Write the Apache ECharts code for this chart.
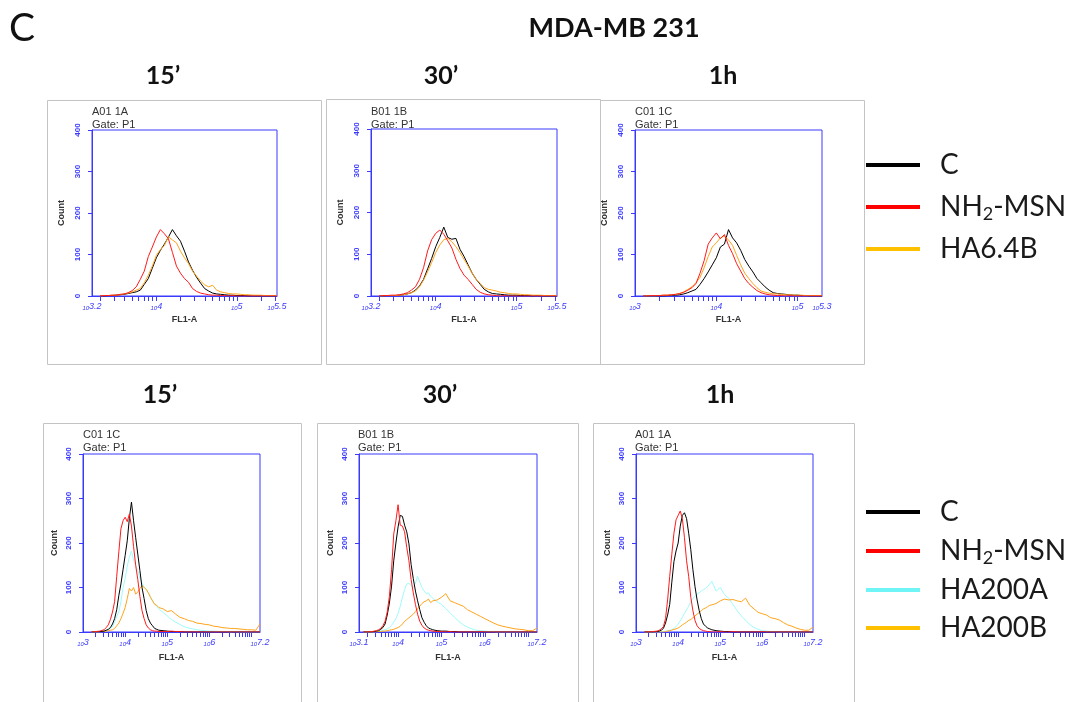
<!DOCTYPE html>
<html>
<head>
<meta charset="utf-8">
<script src="https://cdn.jsdelivr.net/npm/echarts@6/dist/echarts.min.js"></script>
<style>
html,body{margin:0;padding:0;background:#fff;}
#chart{width:1086px;height:702px;}
</style>
</head>
<body>
<div id="chart"></div>
<script>
// ---------- x positions (log10 of FL1-A) ----------
const TOP_X_A = [3.30,3.35,3.40,3.45,3.50,3.55,3.60,3.65,3.70,3.75,3.80,3.85,3.90,3.95,4.00,4.05,4.10,4.15,4.20,4.25,4.30,4.35,4.40,4.45,4.50,4.55,4.60,4.65,4.70,4.75,4.80,4.85,4.90,4.95,5.00,5.05,5.10,5.15,5.20,5.25,5.30,5.35,5.40,5.45,5.50];
const TOP_X_B = [3.10,3.15,3.20,3.25,3.30,3.35,3.40,3.45,3.50,3.55,3.60,3.65,3.70,3.75,3.80,3.85,3.90,3.95,4.00,4.05,4.10,4.15,4.20,4.25,4.30,4.35,4.40,4.45,4.50,4.55,4.60,4.65,4.70,4.75,4.80,4.85,4.90,4.95,5.00,5.05,5.10,5.15,5.20,5.25,5.30];
const BOT_X = [3.2,3.3,3.4,3.5,3.55,3.6,3.65,3.7,3.75,3.8,3.85,3.9,3.95,4.0,4.05,4.1,4.15,4.2,4.25,4.3,4.35,4.4,4.45,4.5,4.55,4.6,4.65,4.7,4.75,4.8,4.9,5.0,5.1,5.2,5.3,5.4,5.5,5.6,5.7,5.8,5.9,6.0,6.1,6.2,6.3,6.4,6.5,6.6,6.7,6.8,6.9,7.0,7.1,7.2];

// ---------- top row: C, NH2-MSN, HA6.4B ----------
const T15_C     = [0,0,1,1,2,3,4,6,8,10, 14,28,42,67,92,110,125,142,160,145, 132,108,82,62,45,31,18,12,7,5, 4,3,2,2,1,1,1,0,0,0,0,0,0,0,0];
const T15_NH2   = [0,1,1,2,2,4,5,8,13,22, 40,60,95,118,142,160,150,138,105,72, 55,42,33,18,11,7,5,3,2,2, 1,1,0,1,0,0,0,0,0,0,0,0,0,0,0];
const T15_HA64B = [0,1,1,2,2,3,5,7,10,14, 18,32,50,72,98,112,122,143,135,128, 108,92,78,60,48,36,27,22,26,14, 10,8,6,5,5,4,3,3,2,2,2,1,1,1,1];

const T30_C     = [0,0,1,1,1,2,3,5,8,14, 24,40,65,90,118,140,165,140,136,138, 112,95,75,55,40,28,16,10,6,5, 4,3,2,2,2,1,1,1,0,1,0,0,0,0,0];
const T30_NH2   = [0,1,1,2,2,3,5,8,14,22, 40,68,108,135,150,158,148,132,115,88, 66,50,40,28,16,9,5,3,2,1, 0,1,0,0,0,0,0,0,0,0,0,0,0,0,0];
const T30_HA64B = [0,0,1,1,1,2,3,5,8,12, 22,38,58,80,104,122,135,138,130,118, 104,88,72,55,40,30,20,16,14,12, 9,8,6,5,5,4,3,3,2,2,2,1,1,1,1];

const T1H_C     = [0,0,0,0,0,0,1,2,2,3, 5,8,12,16,28,42,58,75,92,118, 125,160,140,128,110,88,72,58,42,32, 22,14,8,6,5,4,3,2,2,1, 1,0,0,0,0];
const T1H_NH2   = [0,0,1,1,1,2,2,3,4,6, 9,14,20,30,55,85,125,140,152,138, 148,122,102,78,60,42,30,21,13,8, 5,3,2,1,1,0,1,0,0,0, 0,0,0,0,0];
const T1H_HA64B = [0,0,0,0,1,2,2,3,4,6, 10,16,22,32,45,68,95,118,128,140, 145,135,122,98,75,55,42,30,20,12, 9,7,5,5,4,3,3,2,2,2, 1,1,1,1,1];

// ---------- bottom row: C, NH2-MSN, HA200A, HA200B ----------
const B15_C      = [0,0,1,2,4,6,10,18,30,50, 82,108,140,172,205,255,292,250,212,175, 138,100,75,48,30,20,14,8,6,4, 3,2,1,1,1,0,0,0,0,0, 0,0,0,0,0,0,0,0,0,0, 0,0,0,0];
const B15_NH2    = [0,1,2,5,10,16,28,45,68,125, 180,232,250,258,248,265,238,192,150,118, 80,48,30,16,9,5,3,2,2,1, 1,1,2,1,1,0,0,0,0,0, 0,0,0,0,0,0,0,0,0,0, 0,0,0,0];
const B15_HA200A = [0,0,1,2,3,5,8,12,22,35, 45,68,100,120,148,168,182,162,150,138, 120,110,102,96,88,80,70,64,58,52, 44,36,28,22,17,12,9,7,5,4, 3,2,2,1,1,1,0,1,0,0, 0,0,0,0];
const B15_HA200B = [0,0,0,1,2,3,4,5,8,14, 20,30,42,55,75,98,92,100,85,90, 98,104,100,96,88,78,70,62,60,55, 52,46,48,40,33,30,26,24,20,19, 17,16,13,12,10,9,8,8,7,6, 5,5,4,18];

const B30_C      = [0,0,0,2,3,6,10,18,38,65, 103,160,200,236,262,260,240,225,198,152, 120,92,70,50,32,22,14,9,7,5, 3,2,2,1,1,0,0,0,0,0, 0,0,0,0,0,0,0,0,0,0, 0,0,0,0];
const B30_NH2    = [0,0,1,3,5,8,14,24,45,80, 140,220,250,286,240,238,225,190,160,118, 88,62,40,24,15,9,6,4,3,2, 1,1,0,1,0,0,0,0,0,0, 1,0,0,0,0,0,0,0,0,0, 0,0,0,0];
const B30_HA200A = [0,0,0,1,2,3,4,5,7,10, 15,22,30,42,58,78,95,108,110,104, 100,110,125,112,100,92,86,88,80,76, 68,62,52,43,33,24,16,11,7,4, 3,2,1,1,0,0,0,0,0,0, 0,0,0,0];
const B30_HA200B = [0,0,0,0,1,1,2,2,3,4, 5,6,8,10,13,18,24,28,32,36, 40,46,52,58,64,68,70,74,66,70, 72,78,86,70,66,62,58,50,45,40, 35,30,25,20,16,13,11,9,7,6, 5,3,3,9];

const B1H_C      = [0,0,0,1,2,4,8,20,38,62, 112,158,182,200,238,262,268,255,222,185, 140,102,72,48,30,18,13,9,7,5, 3,2,1,1,0,0,0,0,0,0, 0,0,0,0,0,0,0,0,0,0, 0,0,0,0];
const B1H_NH2    = [0,0,1,2,4,7,12,30,72,125, 175,222,252,262,272,255,212,160,125,78, 48,26,14,8,5,3,2,1,1,0, 0,1,0,0,1,0,0,0,0,0, 0,1,0,0,0,0,0,0,0,0, 0,0,0,0];
const B1H_HA200A = [0,0,0,0,0,1,1,2,3,4, 5,8,12,18,25,33,42,50,58,68, 76,80,85,88,92,95,98,102,108,114, 92,100,84,76,62,48,36,26,17,10, 6,3,2,1,1,0,0,0,0,0, 0,0,0,0];
const B1H_HA200B = [0,0,0,0,0,0,0,1,2,3, 4,6,7,9,12,16,19,22,26,28, 32,36,40,44,48,52,54,57,60,61, 64,70,74,72,73,70,68,76,60,52, 44,41,38,32,30,27,21,16,13,9, 6,4,4,11];

// ---------- axis labels ----------
const Y_TICKS = [0,100,200,300,400];
const XLAB_T15 = [3.2,4,5,5.5];
const XLAB_T30 = [3.2,4,5,5.5];
const XLAB_T1H = [3,4,5,5.3];
const XLAB_B15 = [3,4,5,6,7.2];
const XLAB_B30 = [3.1,4,5,6,7.2];
const XLAB_B1H = [3,4,5,6,7.2];
const TICK_MULTS = [1,2,3,4,5,6,7,8,9];

const TITLES_TOP = ["15\u2019","30\u2019","1h"];
const TITLES_BOT = ["15\u2019","30\u2019","1h"];
const TUBE_LABELS = ["A01 1A","B01 1B","C01 1C","C01 1C","B01 1B","A01 1A"];
const LEGEND_TOP = ["C","NH2-MSN","HA6.4B"];
const LEGEND_BOT = ["C","NH2-MSN","HA200A","HA200B"];

// ---------- styles ----------
const BLUE = '#3a3aff';
const COL = {'C':'#000000','NH2-MSN':'#ff1a1a','HA6.4B':'#ffa31a','HA200A':'#9ffbfb','HA200B':'#ffa31a'};
const LEG_COL = {'C':'#000000','NH2-MSN':'#ff0000','HA6.4B':'#ffc000','HA200A':'#6ff5f5','HA200B':'#ffc000'};

const panels = [
  {grid:{left:92,top:130,width:185,height:166}, min:3.2, max:5.5, labels:XLAB_T15, xs:TOP_X_A,
   series:[['C',T15_C],['HA6.4B',T15_HA64B],['NH2-MSN',T15_NH2]], countGap:26, flGap:19},
  {grid:{left:371,top:129,width:186,height:167}, min:3.2, max:5.5, labels:XLAB_T30, xs:TOP_X_A,
   series:[['C',T30_C],['HA6.4B',T30_HA64B],['NH2-MSN',T30_NH2]], countGap:26, flGap:19},
  {grid:{left:635,top:130,width:187,height:166}, min:3.0, max:5.3, labels:XLAB_T1H, xs:TOP_X_B,
   series:[['C',T1H_C],['HA6.4B',T1H_HA64B],['NH2-MSN',T1H_NH2]], countGap:26, flGap:19},
  {grid:{left:83,top:454,width:177,height:178}, min:3.0, max:7.2, labels:XLAB_B15, xs:BOT_X,
   series:[['HA200A',B15_HA200A],['HA200B',B15_HA200B],['C',B15_C],['NH2-MSN',B15_NH2]], countGap:24, flGap:21},
  {grid:{left:359,top:454,width:178,height:178}, min:3.1, max:7.2, labels:XLAB_B30, xs:BOT_X,
   series:[['HA200A',B30_HA200A],['HA200B',B30_HA200B],['C',B30_C],['NH2-MSN',B30_NH2]], countGap:24, flGap:21},
  {grid:{left:636,top:454,width:177,height:178}, min:3.0, max:7.2, labels:XLAB_B1H, xs:BOT_X,
   series:[['HA200A',B1H_HA200A],['HA200B',B1H_HA200B],['C',B1H_C],['NH2-MSN',B1H_NH2]], countGap:24, flGap:21}
];

function logTicks(min, max){
  const out = [];
  for (let d = Math.floor(min); d <= Math.ceil(max); d++){
    TICK_MULTS.forEach(m => {
      const v = d + Math.log10(m);
      if (v > min + 0.02 && v < max - 0.005) out.push(v);
    });
  }
  return out;
}
function fmtExp(v){ return String(Math.round(v*10)/10); }

const grids = [], xAxes = [], yAxes = [], series = [];
panels.forEach((p, i) => {
  grids.push(Object.assign({show:true, borderColor:BLUE, borderWidth:1, backgroundColor:'transparent', containLabel:false, outerBoundsMode:'none'}, p.grid));
  xAxes.push({
    type:'value', gridIndex:i, min:p.min, max:p.max,
    name:'FL1-A', nameLocation:'middle', nameGap:p.flGap,
    nameTextStyle:{fontSize:9, color:'#333', fontFamily:'Liberation Sans', fontWeight:'bold'},
    axisLine:{show:true, onZero:false, lineStyle:{color:BLUE, width:1}},
    axisTick:{show:true, customValues:logTicks(p.min,p.max), length:5, inside:false, lineStyle:{color:BLUE, width:1}},
    splitLine:{show:false}, minorTick:{show:false},
    axisLabel:{show:true, customValues:p.labels, margin:5, showMinLabel:true, showMaxLabel:true,
      formatter: v => '{a|10}{b|' + fmtExp(v) + '}',
      rich:{a:{fontSize:6, color:BLUE, fontFamily:'Liberation Sans', padding:[4,0,0,0], fontStyle:'italic'},
            b:{fontSize:9, color:BLUE, fontFamily:'Liberation Sans', fontStyle:'italic'}}}
  });
  yAxes.push({
    type:'value', gridIndex:i, min:0, max:400, interval:100,
    name:'Count', nameLocation:'middle', nameGap:p.countGap, nameRotate:90,
    nameTextStyle:{fontSize:9, color:'#333', fontFamily:'Liberation Sans', fontWeight:'bold'},
    axisLine:{show:true, lineStyle:{color:BLUE, width:1}},
    axisTick:{show:true, length:4, inside:false, lineStyle:{color:BLUE}},
    splitLine:{show:false},
    axisLabel:{show:true, rotate:90, fontSize:8, color:BLUE, margin:10, fontFamily:'Liberation Sans', fontWeight:'bold',
      customValues:Y_TICKS}
  });
  p.series.forEach(([name, ys], k) => {
    series.push({
      type:'line', name:name, xAxisIndex:i, yAxisIndex:i,
      data: p.xs.map((x, j) => [x, ys[j]]),
      showSymbol:false, symbol:'none', silent:true, animation:false,
      lineStyle:{width:1, color:COL[name]}, itemStyle:{color:COL[name]},
      emphasis:{disabled:true}, z:2+k
    });
  });
});

function legendItems(names){
  return names.map(n => ({name:n, icon:'rect', itemStyle:{color:LEG_COL[n], borderWidth:0}, lineStyle:{width:0}}));
}
const legendText = {
  fontSize:28, lineHeight:30, color:'#1a1a1a', fontFamily:'Lato',
  rich:{
    g:{width:15, fontSize:28, lineHeight:30},
    t:{fontSize:28, lineHeight:30, color:'#1a1a1a', fontFamily:'Lato'},
    s:{fontSize:18, lineHeight:30, padding:[14,0,0,0], color:'#1a1a1a', fontFamily:'Lato'}
  }
};
function legendFmt(n){
  if (n === 'NH2-MSN') return '{g|}{t|NH}{s|2}{t|-MSN}';
  return '{g|}{t|' + n + '}';
}

const graphics = [];
// panel frames
[[47,100,274,264],[326,99,274,265],[600,100,264,264],[43,423,258,300],[317,423,261,300],[593,423,261,300]].forEach(r => {
  graphics.push({type:'rect', shape:{x:r[0]+0.5, y:r[1]+0.5, width:r[2], height:r[3]}, style:{fill:'none', stroke:'#c4c4c4', lineWidth:1}, silent:true, z:0});
});
// tube labels
const tubePos = [[92,105],[371,105],[635,105],[83,428],[358,428],[635,428]];
tubePos.forEach((pt, i) => {
  graphics.push({type:'text', x:pt[0], y:pt[1], style:{text:TUBE_LABELS[i] + '\nGate: P1', fontSize:11, lineHeight:13, fill:'#333', fontFamily:'Liberation Sans', textVerticalAlign:'top'}, silent:true});
});
// headers
graphics.push({type:'text', x:9, y:28, style:{text:'C', fontSize:39, fill:'#111', fontFamily:'Lato', textVerticalAlign:'middle'}});
graphics.push({type:'text', x:614, y:28, style:{text:'MDA-MB 231', fontSize:27, fontWeight:'bold', fill:'#111', fontFamily:'Lato', textAlign:'center', textVerticalAlign:'middle'}});
[163,441,723].forEach((x,i) => graphics.push({type:'text', x:x, y:76, style:{text:TITLES_TOP[i], fontSize:25, fontWeight:'bold', fill:'#111', fontFamily:'Lato', textAlign:'center', textVerticalAlign:'middle'}}));
[160,440,720].forEach((x,i) => graphics.push({type:'text', x:x, y:395, style:{text:TITLES_BOT[i], fontSize:25, fontWeight:'bold', fill:'#111', fontFamily:'Lato', textAlign:'center', textVerticalAlign:'middle'}}));

const option = {
  backgroundColor:'#ffffff',
  animation:false,
  grid:grids, xAxis:xAxes, yAxis:yAxes, series:series,
  legend:[
    {orient:'vertical', left:866, top:150, itemWidth:54, itemHeight:4, itemGap:11, icon:'rect',
     data:legendItems(LEGEND_TOP), formatter:legendFmt, textStyle:legendText, selectedMode:false, padding:0},
    {orient:'vertical', left:866, top:497, itemWidth:54, itemHeight:4, itemGap:8, icon:'rect',
     data:legendItems(LEGEND_BOT), formatter:legendFmt, textStyle:legendText, selectedMode:false, padding:0}
  ],
  graphic:graphics
};
const chart = echarts.init(document.getElementById('chart'), null, {renderer:'canvas'});
chart.setOption(option);
</script>
</body>
</html>
